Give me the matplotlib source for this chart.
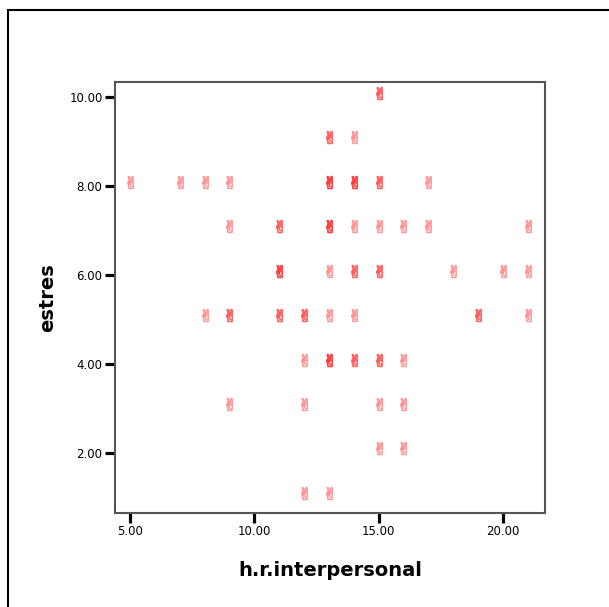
import matplotlib
matplotlib.use("Agg")
import matplotlib.pyplot as plt
from matplotlib.patches import Rectangle

# interpersonal score, stress score and how many cases share each point
hr_inter = [15, 13, 14,
            5, 7, 8, 9, 13, 14, 15, 17,
            9, 11, 13, 14, 15, 16, 17, 21,
            11, 13, 14, 15, 18, 20, 21,
            8, 9, 11, 12, 13, 14, 19, 21,
            12, 13, 14, 15, 16,
            9, 12, 15, 16,
            15, 16,
            12, 13]
estres = [10, 9, 9,
          8, 8, 8, 8, 8, 8, 8, 8,
          7, 7, 7, 7, 7, 7, 7, 7,
          6, 6, 6, 6, 6, 6, 6,
          5, 5, 5, 5, 5, 5, 5, 5,
          4, 4, 4, 4, 4,
          3, 3, 3, 3,
          2, 2,
          1, 1]
counts = [2, 2, 1,
          1, 1, 1, 1, 3, 3, 2, 1,
          1, 2, 3, 1, 1, 1, 1, 1,
          3, 1, 2, 2, 1, 1, 1,
          1, 2, 2, 2, 1, 1, 2, 1,
          1, 3, 2, 2, 1,
          1, 1, 1, 1,
          1, 1,
          1, 1]

x_ticks = [5, 10, 15, 20]
y_ticks = [2, 4, 6, 8, 10]

plt.rcParams['font.family'] = ['DejaVu Sans']

fig = plt.figure(figsize=(6.09, 6.07), dpi=100)
ax = fig.add_axes([0.189, 0.155, 0.706, 0.710])

# repeated cases are drawn on top of each other so they show darker
for x, y, n in zip(hr_inter, estres, counts):
    for _ in range(n):
        ax.plot(x, y + 0.1, linestyle='none', marker='$\u270C$',
                markersize=9, color='#ff2020', alpha=0.35,
                markeredgewidth=0.7)

ax.set_xlim(4.4, 21.7)
ax.set_ylim(0.65, 10.35)
ax.set_xticks(x_ticks)
ax.set_yticks(y_ticks)
ax.set_xticklabels(['%.2f' % v for v in x_ticks], fontsize=8.5)
ax.set_yticklabels(['%.2f' % v for v in y_ticks], fontsize=8.5)
ax.tick_params(direction='out', length=7, width=2.3, color='black', pad=2)

for s in ax.spines.values():
    s.set_color('#555555')
    s.set_linewidth(1.5)

ax.set_xlabel('h.r.interpersonal', fontsize=14, fontweight='bold', labelpad=16)
ax.set_ylabel('estres', fontsize=14, fontweight='bold', labelpad=9)

# outer border of the chart box
fig.add_artist(Rectangle((0.013, -0.2), 1.3, 1.2 - 10 / 607,
                         transform=fig.transFigure, fill=False,
                         edgecolor='black', linewidth=1.5))

fig.savefig('out.png', dpi=100)
